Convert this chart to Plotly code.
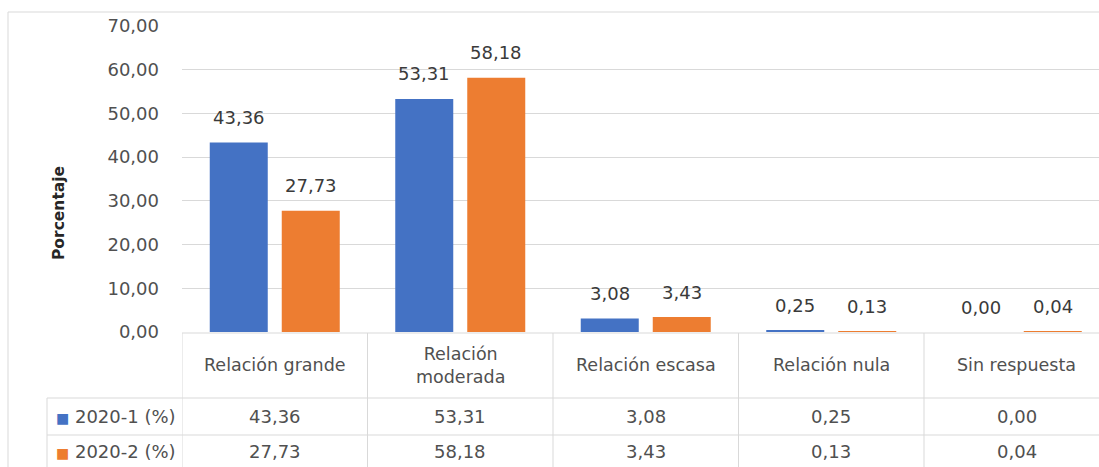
import plotly.graph_objects as go

# Survey results: share of answers per relationship level, two semesters
categories = ["Relación grande", "Relación moderada", "Relación escasa", "Relación nula", "Sin respuesta"]
header_labels = ["Relación grande", "Relación<br>moderada", "Relación escasa", "Relación nula", "Sin respuesta"]
series_names = ["2020-1 (%)", "2020-2 (%)"]
values_2020_1 = [43.36, 53.31, 3.08, 0.25, 0.00]
values_2020_2 = [27.73, 58.18, 3.43, 0.13, 0.04]
y_ticks = [0, 10, 20, 30, 40, 50, 60, 70]

W, H = 1099, 467
BLUE = "#4472C4"
ORANGE = "#ED7D31"
GRID = "#d9d9d9"
TXT = "#505050"
LBL = "#3a3a3a"
FONT = "DejaVu Sans"
FS_NUM = 18
FS_HEAD = 17.5

def fmt(v):
    return f"{v:.2f}".replace(".", ",")

def py(px):  # pixel row from top -> paper fraction
    return 1 - px / H

def pxx(px):  # pixel column from left -> paper fraction
    return px / W

plot_left = 182
cat_w = 185.5
x_right = -0.5 + (W - plot_left) / cat_w

fig = go.Figure()
bar_w = 58 / cat_w
offsets = [-65 / cat_w, 7 / cat_w]
series = [values_2020_1, values_2020_2]
colors = [BLUE, ORANGE]
for name, vals, col, off in zip(series_names, series, colors, offsets):
    fig.add_trace(go.Bar(
        x=categories, y=vals, name=name,
        marker=dict(color=col, line=dict(width=0)),
        width=bar_w, offset=off, showlegend=False,
    ))

annotations = []
# value labels above the bars
for vals, off in zip(series, offsets):
    for c, v in zip(categories, vals):
        annotations.append(dict(
            x=c, y=v, xref="x", yref="y", text=fmt(v), showarrow=False,
            xshift=(off + bar_w / 2) * cat_w, yshift=25, yanchor="middle",
            font=dict(family=FONT, size=FS_NUM, color=LBL),
        ))

# data table below the plot
header_y = py(365)
row_y = [py(416), py(451)]
for c, lab in zip(categories, header_labels):
    annotations.append(dict(
        x=c, y=header_y, xref="x", yref="paper", text=lab, showarrow=False,
        yanchor="middle", font=dict(family=FONT, size=FS_HEAD, color=TXT),
    ))
for vals, ry in zip(series, row_y):
    for c, v in zip(categories, vals):
        annotations.append(dict(
            x=c, y=ry, xref="x", yref="paper", text=fmt(v), showarrow=False,
            yanchor="middle", font=dict(family=FONT, size=FS_NUM, color=TXT),
        ))
for name, col, ry in zip(series_names, colors, row_y):
    annotations.append(dict(
        x=pxx(54), y=ry, xref="paper", yref="paper", xanchor="left",
        text=f'<span style="color:{col};font-size:14px">■</span> {name}',
        showarrow=False, yanchor="middle",
        font=dict(family=FONT, size=FS_NUM, color=TXT),
    ))

# axis title
annotations.append(dict(
    x=pxx(48), y=py(213), xref="paper", yref="paper", text="<b>Porcentaje</b>",
    textangle=-90, showarrow=False, font=dict(family=FONT, size=15.5, color="#262626"),
))

shapes = []
line = dict(color=GRID, width=1)
# outer chart border
shapes.append(dict(type="line", xref="paper", yref="paper", x0=pxx(8), x1=1, y0=py(12), y1=py(12), line=line))
shapes.append(dict(type="line", xref="paper", yref="paper", x0=pxx(8), x1=pxx(8), y0=py(12), y1=0, line=line))
# table grid
shapes.append(dict(type="line", xref="paper", yref="paper", x0=pxx(plot_left), x1=1, y0=py(333), y1=py(333), line=line))
for yy in (398, 435):
    shapes.append(dict(type="line", xref="paper", yref="paper", x0=pxx(47), x1=1, y0=py(yy), y1=py(yy), line=line))
shapes.append(dict(type="line", xref="paper", yref="paper", x0=pxx(47), x1=pxx(47), y0=py(398), y1=0, line=line))
for i in range(len(categories) + 1):
    shapes.append(dict(type="line", xref="x", yref="paper", x0=i - 0.5, x1=i - 0.5, y0=py(333), y1=0, line=line))

fig.update_layout(
    width=W, height=H,
    margin=dict(l=0, r=0, t=0, b=0, pad=0, autoexpand=False),
    paper_bgcolor="white", plot_bgcolor="white",
    separators=",.",
    xaxis=dict(domain=[pxx(plot_left), 1], range=[-0.5, x_right], showticklabels=False,
               showgrid=False, zeroline=False, showline=False, fixedrange=True, automargin=False),
    yaxis=dict(domain=[py(332), py(26)], range=[0, 70], tickvals=y_ticks, tickformat=".2f",
               showgrid=True, gridcolor=GRID, gridwidth=1, zeroline=False, showline=False,
               automargin=False, ticklabelstandoff=22,
               tickfont=dict(family=FONT, size=FS_NUM, color=TXT)),
    annotations=annotations, shapes=shapes,
)

fig.write_html("out.html")
